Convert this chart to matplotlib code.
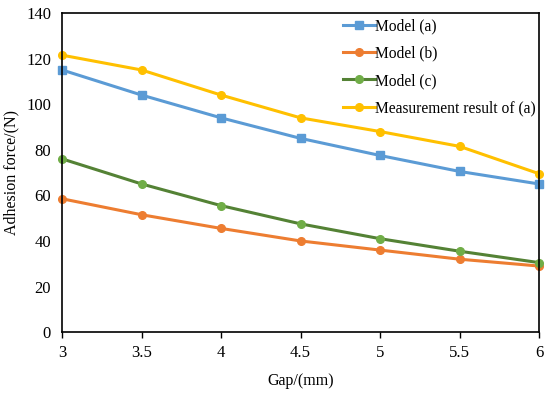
import matplotlib
matplotlib.use("Agg")
import matplotlib.pyplot as plt

plt.rcParams['font.family'] = ['Liberation Serif', 'DejaVu Serif']

gap = [3, 3.5, 4, 4.5, 5, 5.5, 6]
model_a = [115, 104, 94, 85, 77.5, 70.5, 65]
model_b = [58.5, 51.5, 45.5, 40, 36, 32, 29]
model_c = [76, 65, 55.5, 47.5, 41, 35.5, 30.5]
measured_a = [121.5, 115, 104, 94, 88, 81.5, 69.5]

fig = plt.figure(figsize=(5.5, 3.94), dpi=100)
ax = fig.add_axes([0.113, 0.157, 0.867, 0.81])

lw = 2.2
ax.plot(gap, model_a, color='#5B9BD5', lw=lw, marker='s', ms=5.5, label='Model (a)', clip_on=False)
ax.plot(gap, model_b, color='#ED7D31', lw=lw, marker='o', ms=5.5, label='Model (b)', clip_on=False)
ax.plot(gap, model_c, color='#548235', lw=lw, marker='o', ms=5.5,
        mfc='#70AD47', mec='#70AD47', label='Model (c)', clip_on=False)
ax.plot(gap, measured_a, color='#FFC000', lw=lw, marker='o', ms=5.5, label='Measurement result of (a)', clip_on=False)

ax.set_xlim(3, 6)
ax.set_ylim(0, 140)
ax.set_xticks(gap)
ax.set_xticklabels(['3', '3.5', '4', '4.5', '5', '5.5', '6'])
ax.set_yticks(range(0, 141, 20))
ax.tick_params(axis='x', direction='out', length=4, width=1, labelsize=12, pad=5)
ax.tick_params(axis='y', length=0, labelsize=12, pad=8)
for s in ax.spines.values():
    s.set_linewidth(1.2)

ax.set_xlabel('Gap/(mm)', fontsize=11.5, labelpad=9)
ax.set_ylabel('Adhesion force/(N)', fontsize=11.5, labelpad=5)

ax.legend(loc='upper left', bbox_to_anchor=(0.569, 1.013), frameon=False, fontsize=11.2,
          handlelength=2.1, handletextpad=0.0, labelspacing=0.73, borderaxespad=0.2)

fig.savefig('out.png', dpi=100)
